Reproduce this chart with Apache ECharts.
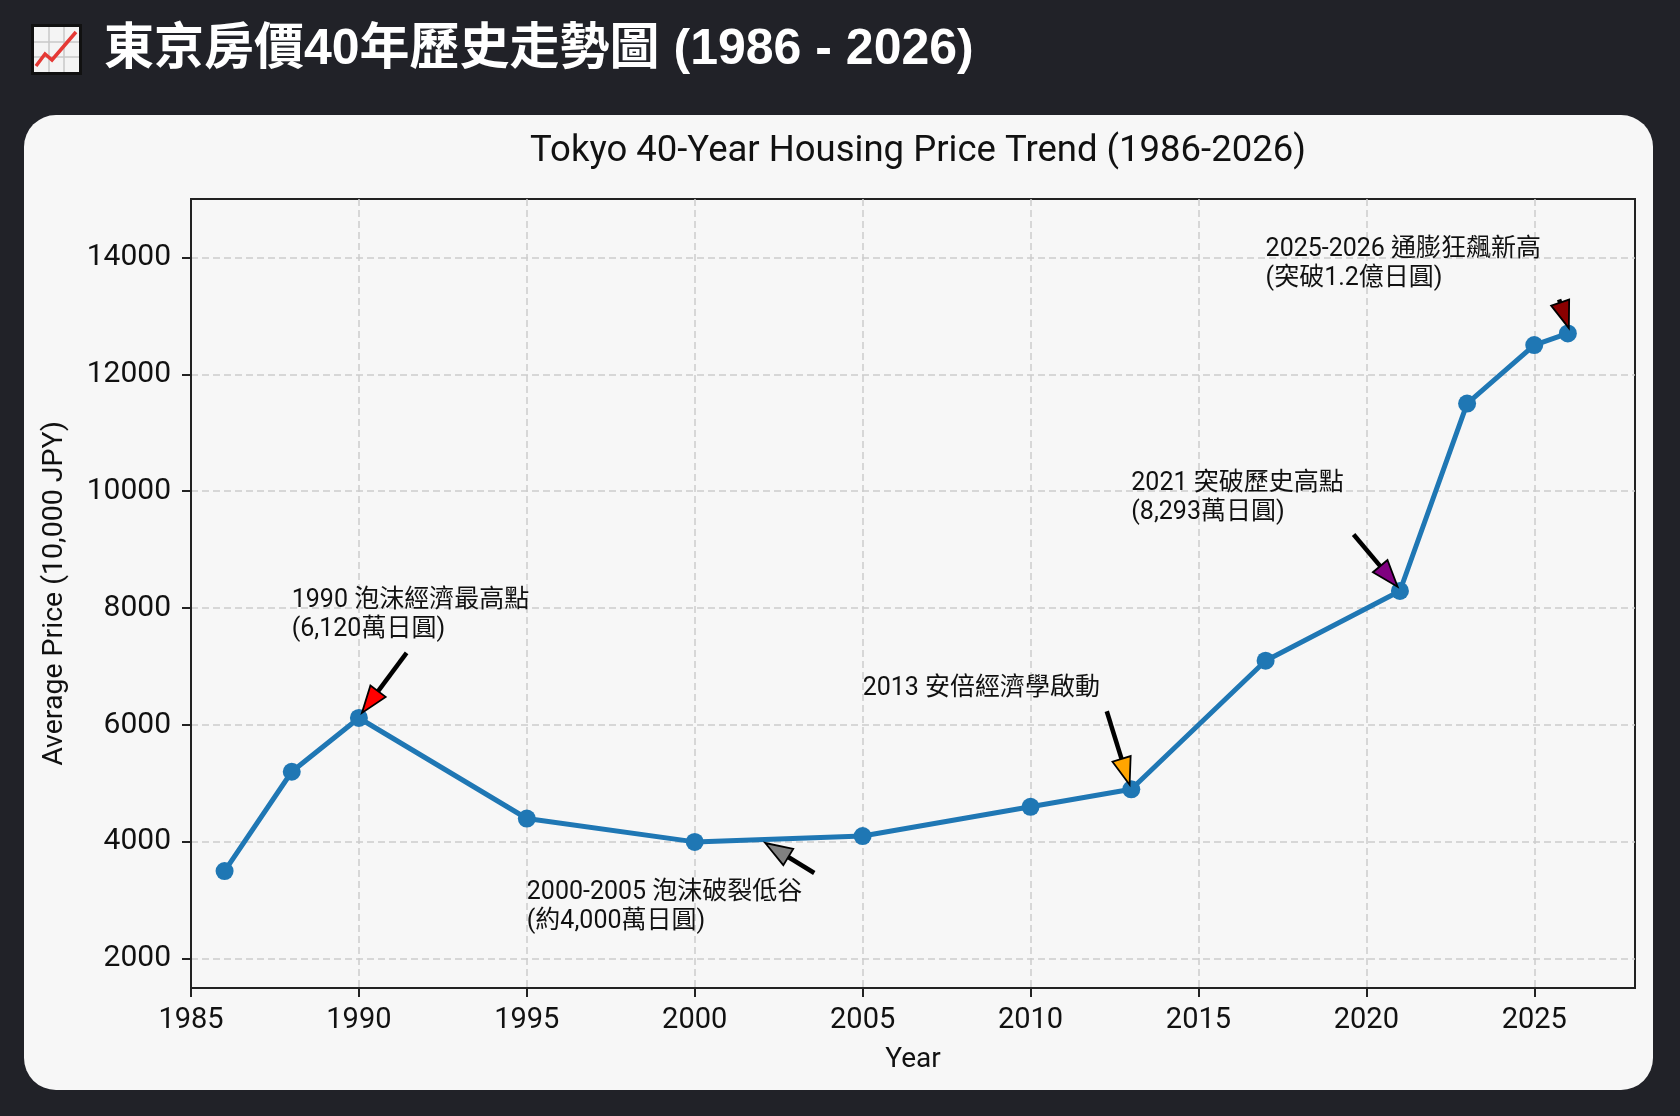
<!DOCTYPE html>
<html>
<head>
    <meta charset="utf-8">
    <title>東京房價40年歷史走勢圖</title>
    <script src="https://cdn.jsdelivr.net/npm/echarts@6/dist/echarts.min.js"></script>
    <style>
        html, body { margin: 0; padding: 0; background: #212228; }
        #main { width: 1680px; height: 1116px; }
    </style>
</head>
<body>
<div id="main"></div>

<script>
// 數據 (萬日圓)
var years  = [1986, 1988, 1990, 1995, 2000, 2005, 2010, 2013, 2017, 2021, 2023, 2025, 2026];
var prices = [3500, 5200, 6120, 4400, 4000, 4100, 4600, 4900, 7100, 8293, 11500, 12500, 12700];

var xTicks = [1985, 1990, 1995, 2000, 2005, 2010, 2015, 2020, 2025];
var yTicks = [2000, 4000, 6000, 8000, 10000, 12000, 14000];

// 標註 (data coords)
var annoText = [
    '1990 泡沫經濟最高點\n(6,120萬日圓)',
    '2000-2005 泡沫破裂低谷\n(約4,000萬日圓)',
    '2013 安倍經濟學啟動',
    '2021 突破歷史高點\n(8,293萬日圓)',
    '2025-2026 通膨狂飆新高\n(突破1.2億日圓)'
];
var annoTextAt = [[1988, 7500], [1995, 2500], [2005, 6500], [2013, 9500], [2017, 13500]];
var arrowFrom  = [[1991.42, 7235], [2003.56, 3468], [2012.27, 6235], [2019.62, 9260], [2025.74, 13280]];
var arrowTo    = [[1990.09, 6207], [2002.10, 3981], [2012.95, 4979], [2020.93, 8365], [2026.03, 12790]];
var arrowColors = ['#ff0000', '#808080', '#ffa500', '#800080', '#8b0000'];

var FONT = "Roboto, 'Noto Sans CJK TC', sans-serif";

var myChart = echarts.init(document.getElementById('main'));

var annoData = annoText.map(function (t, i) {
    return [arrowFrom[i][0], arrowFrom[i][1], arrowTo[i][0], arrowTo[i][1], i];
});

function renderAnno(params, api) {
    var i = api.value(4);
    var t = api.coord([api.value(0), api.value(1)]);
    var h = api.coord([api.value(2), api.value(3)]);
    var dx = h[0] - t[0], dy = h[1] - t[1];
    var len = Math.sqrt(dx * dx + dy * dy);
    var ux = dx / len, uy = dy / len;
    var nx = -uy, ny = ux;
    var hl = Math.min(27, len), hw = 9.5;
    var b = [h[0] - ux * hl, h[1] - uy * hl];
    var tp = api.coord(annoTextAt[i]);
    var kids = [];
    if (len > hl + 1) {
        kids.push({
            type: 'line',
            shape: { x1: t[0], y1: t[1], x2: b[0] + ux * 2, y2: b[1] + uy * 2 },
            style: { stroke: '#000', lineWidth: 4.5 }
        });
    }
    kids.push({
        type: 'polygon',
        shape: { points: [[b[0] + nx * hw, b[1] + ny * hw], h, [b[0] - nx * hw, b[1] - ny * hw]] },
        style: { fill: arrowColors[i], stroke: '#000', lineWidth: 1.8, lineJoin: 'miter' }
    });
    kids.push({
        type: 'text',
        style: {
            text: annoText[i],
            x: tp[0],
            y: tp[1] + 7,
            align: 'left',
            verticalAlign: 'bottom',
            fontSize: 25,
            lineHeight: 29,
            fontFamily: FONT,
            fill: '#111'
        }
    });
    return { type: 'group', children: kids };
}

myChart.setOption({
    backgroundColor: '#212228',
    animation: false,
    textStyle: { fontFamily: FONT },
    graphic: [
        {
            type: 'rect',
            z: -10,
            shape: { x: 24, y: 115, width: 1629, height: 975, r: 32 },
            style: { fill: '#f7f7f7' }
        },
        // 📈 icon
        {
            type: 'group',
            x: 31, y: 24,
            children: [
                { type: 'rect', shape: { x: 0, y: 0, width: 51, height: 51 }, style: { fill: '#111' } },
                { type: 'rect', shape: { x: 3, y: 3, width: 45, height: 45 }, style: { fill: '#f4f4f4' } },
                { type: 'line', shape: { x1: 18, y1: 3, x2: 18, y2: 48 }, style: { stroke: '#c8c8c8', lineWidth: 1.5 } },
                { type: 'line', shape: { x1: 33, y1: 3, x2: 33, y2: 48 }, style: { stroke: '#c8c8c8', lineWidth: 1.5 } },
                { type: 'line', shape: { x1: 3, y1: 18, x2: 48, y2: 18 }, style: { stroke: '#c8c8c8', lineWidth: 1.5 } },
                { type: 'line', shape: { x1: 3, y1: 33, x2: 48, y2: 33 }, style: { stroke: '#c8c8c8', lineWidth: 1.5 } },
                { type: 'polyline', shape: { points: [[5, 42], [14, 30], [21, 36], [45, 8]] }, style: { stroke: '#e53935', lineWidth: 3.5, fill: null } }
            ]
        },
        {
            type: 'text',
            x: 104, y: 50,
            style: {
                text: '東京房價40年歷史走勢圖 (1986 - 2026)',
                fontSize: 50,
                fontWeight: 'bold',
                fontFamily: "'Liberation Sans', 'Noto Sans CJK TC', sans-serif",
                fill: '#ffffff',
                verticalAlign: 'middle'
            }
        }
    ],
    title: {
        text: 'Tokyo 40-Year Housing Price Trend (1986-2026)',
        left: 913,
        top: 129,
        textAlign: 'center',
        textStyle: { fontSize: 36.5, fontWeight: 'normal', color: '#111', fontFamily: FONT }
    },
    grid: {
        left: 191, top: 199, width: 1444, height: 789,
        show: true,
        borderColor: '#222',
        borderWidth: 2,
        backgroundColor: 'transparent'
    },
    xAxis: {
        type: 'value',
        min: 1985,
        max: 2028,
        name: 'Year',
        nameLocation: 'middle',
        nameGap: 58,
        nameTextStyle: { fontSize: 28, color: '#111' },
        axisLine: { show: true, lineStyle: { color: '#222', width: 2 } },
        axisTick: { show: true, inside: false, length: 9, customValues: xTicks, lineStyle: { color: '#222', width: 2 } },
        axisLabel: { customValues: xTicks, fontSize: 29, color: '#111', margin: 18, formatter: function (v) { return String(v); } },
        splitLine: { show: true, lineStyle: { type: [7, 4], color: '#cdcdcd', width: 1.5 } }
    },
    yAxis: {
        type: 'value',
        min: 1500,
        max: 15000,
        name: 'Average Price (10,000 JPY)',
        nameLocation: 'middle',
        nameGap: 122,
        nameTextStyle: { fontSize: 28.5, color: '#111' },
        axisLine: { show: true, lineStyle: { color: '#222', width: 2 } },
        axisTick: { show: true, inside: false, length: 9, customValues: yTicks, lineStyle: { color: '#222', width: 2 } },
        axisLabel: { customValues: yTicks, fontSize: 30, color: '#111', margin: 20, formatter: function (v) { return String(v); } },
        splitLine: { show: true, lineStyle: { type: [7, 4], color: '#cdcdcd', width: 1.5 } }
    },
    series: [
        {
            name: 'Tokyo',
            type: 'line',
            data: years.map(function (y, i) { return [y, prices[i]]; }),
            symbol: 'circle',
            symbolSize: 18,
            lineStyle: { color: '#1f77b4', width: 5 },
            itemStyle: { color: '#1f77b4' },
            z: 3
        },
        {
            type: 'custom',
            renderItem: renderAnno,
            data: annoData,
            encode: { x: [0, 2], y: [1, 3] },
            clip: false,
            silent: true,
            z: 5
        }
    ]
});
</script>

</body>
</html>
